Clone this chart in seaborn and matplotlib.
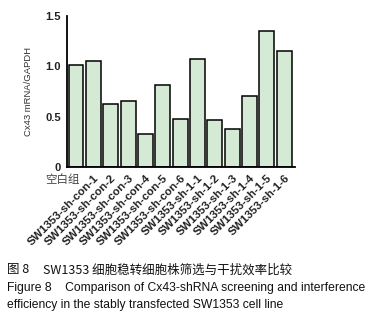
import matplotlib
matplotlib.use("Agg")
import matplotlib.pyplot as plt
import matplotlib.transforms as mtransforms
import seaborn as sns
import pandas as pd

categories = ["空白组", "SW1353-sh-con-1", "SW1353-sh-con-2", "SW1353-sh-con-3",
              "SW1353-sh-con-4", "SW1353-sh-con-5", "SW1353-sh-con-6",
              "SW1353-sh-1-1", "SW1353-sh-1-2", "SW1353-sh-1-3",
              "SW1353-sh-1-4", "SW1353-sh-1-5", "SW1353-sh-1-6"]
values = [1.01, 1.05, 0.62, 0.65, 0.325, 0.81, 0.48, 1.07, 0.47, 0.38, 0.70, 1.35, 1.15]
yticks = [0, 0.5, 1.0, 1.5]
ytick_labels = ["0", "0.5", "1.0", "1.5"]

sns.set_style("white")
plt.rcParams['font.family'] = ['Liberation Sans', 'Noto Sans CJK SC', 'DejaVu Sans']

df = pd.DataFrame({"group": categories, "value": values})

fig = plt.figure(figsize=(3.92, 3.24), dpi=100)
ax = fig.add_axes([67/392, 1-167/324, (295-67)/392, (167-15.7)/324])
sns.barplot(data=df, x="group", y="value", ax=ax, color="#d5ead5",
            saturation=1, edgecolor="black", linewidth=1.1, width=0.86)
ax.set_xlim(-0.52, 12.62)
ax.set_ylim(0, 1.5)
ax.set_yticks(yticks)
ax.set_yticklabels(ytick_labels, fontsize=8, fontweight="bold", color="#222222")
ax.set_xlabel("")
ax.set_ylabel("Cx43 mRNA/GAPDH", fontsize=6.8, labelpad=9, color="#333333")
for s in ["top", "right"]:
    ax.spines[s].set_visible(False)
for s in ["left", "bottom"]:
    ax.spines[s].set_linewidth(1.3)
    ax.spines[s].set_color("black")
ax.tick_params(axis="both", direction="out", length=3, width=1, colors="black", pad=1.5)
ax.tick_params(axis="both", labelcolor="#222222")
ax.set_xticks(range(len(categories)))
ax.set_xticklabels(categories)
for i, lab in enumerate(ax.get_xticklabels()):
    if i == 0:
        lab.set_rotation(0)
        lab.set_ha("right")
        lab.set_fontsize(8.3)
        lab.set_family(['Noto Sans CJK SC', 'DejaVu Sans'])
        lab.set_color("#444444")
        lab.set_transform(lab.get_transform() + mtransforms.ScaledTranslation(4/100, 0, fig.dpi_scale_trans))
    else:
        lab.set_rotation(45)
        lab.set_ha("right")
        lab.set_va("top")
        lab.set_rotation_mode("anchor")
        lab.set_fontsize(8.2)
        lab.set_fontweight("bold")

fig.text(7/392, 1-270/324, "图 8", fontsize=9,
         family=['Noto Sans CJK SC', 'DejaVu Sans'], va="center", color="#111111")
fig.text(43/392, 1-270/324, "SW1353 细胞稳转细胞株筛选与干扰效率比较", fontsize=9,
         family=['Noto Sans CJK SC', 'DejaVu Sans'], va="center", color="#111111")
fig.text(7/392, 1-288/324, "Figure 8    Comparison of Cx43-shRNA screening and interference",
         fontsize=8.7, va="center", color="#111111")
fig.text(7/392, 1-305/324, "efficiency in the stably transfected SW1353 cell line",
         fontsize=8.7, va="center", color="#111111")

fig.savefig("out.png", dpi=100)
